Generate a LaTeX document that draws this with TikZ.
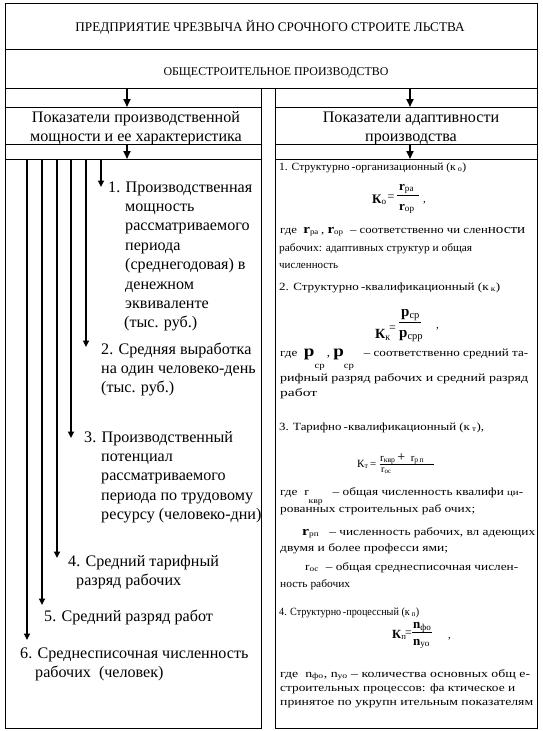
\documentclass[tikz,border=0pt]{standalone}
\usepackage{fontspec}
\usepackage{graphicx}
\setmainfont{Liberation Serif}
\usetikzlibrary{arrows.meta}
\newcommand\LFont{\fontsize{16.1}{19}\selectfont}
\newcommand\RFont{\fontsize{11}{12}\selectfont}
\newcommand\BigSym[1]{{\fontsize{13}{13}\selectfont\bfseries #1}}
\newcommand\HugeP{{\fontsize{16}{16}\selectfont\bfseries р}}
\newcommand\LowSub[1]{\raisebox{-12pt}{\fontsize{9}{9}\selectfont #1}}
\newcommand\FitW[2]{\resizebox{#1pt}{\height}{#2}}
\begin{document}
\begin{tikzpicture}[x=1pt,y=-1pt,
  frame/.style={draw=black, line width=0.9pt},
  bigarrow/.style={line width=1.8pt, -{Triangle[length=8pt,width=7pt]}},
  smallarrow/.style={line width=1.8pt, -{Triangle[length=6.5pt,width=6pt]}},
  ltext/.style={font=\LFont, inner sep=0pt, anchor=base west},
  rtext/.style={font=\RFont, inner sep=0pt, anchor=base west},
  htext/.style={font=\LFont, inner sep=0pt, anchor=base},
  fml/.style={inner sep=0pt, anchor=base west},
  fbar/.style={line width=0.7pt}]
\useasboundingbox (0,0) rectangle (542,731);
\fill[white] (0,0) rectangle (542,731);
% frames
\draw[frame] (5.5,3) rectangle (537,49);
\draw[frame] (5.5,49) rectangle (537,88);
\draw[frame] (5.5,88) rectangle (261,728);
\draw[frame] (5.5,107) -- (261,107);
\draw[frame] (5.5,144) -- (261,144);
\draw[frame] (5.5,159) -- (261,159);
\draw[frame] (275,88) rectangle (537,728);
\draw[frame] (275,107) -- (537,107);
\draw[frame] (275,144) -- (537,144);
\draw[frame] (275,159) -- (537,159);
% titles
\node[font=\fontsize{13.2}{15}\selectfont, inner sep=0pt, anchor=base] (title) at (270,31.5) {ПРЕДПРИЯТИЕ ЧРЕЗВЫЧА ЙНО СРОЧНОГО СТРОИТЕ ЛЬСТВА};
\node[font=\fontsize{11.9}{13}\selectfont, inner sep=0pt, anchor=base] (sub) at (276,75) {ОБЩЕСТРОИТЕЛЬНОЕ ПРОИЗВОДСТВО};
\node[htext] (hl1) at (136,122.5) {Показатели производственной};
\node[htext] (hl2) at (136,141) {мощности и ее характеристика};
\node[htext] (hr1) at (411,122.5) {Показатели адаптивности};
\node[htext] (hr2) at (411,141) {производства};
% top arrows
\coordinate (a1s) at (127,88);  \coordinate (a1e) at (127,107);
\coordinate (a2s) at (127,144); \coordinate (a2e) at (127,159);
\coordinate (a3s) at (410,88);  \coordinate (a3e) at (410,107);
\coordinate (a4s) at (410,144); \coordinate (a4e) at (410,159);
\draw[bigarrow] (a1s) -- (a1e);
\draw[bigarrow] (a2s) -- (a2e);
\draw[bigarrow] (a3s) -- (a3e);
\draw[bigarrow] (a4s) -- (a4e);
% left column arrows
\coordinate (s1) at (101,159); \coordinate (e1) at (101,187);
\coordinate (s2) at (86,159);  \coordinate (e2) at (86,347);
\coordinate (s3) at (71,159);  \coordinate (e3) at (71,438);
\coordinate (s4) at (57,159);  \coordinate (e4) at (57,558);
\coordinate (s5) at (42,159);  \coordinate (e5) at (42,605);
\coordinate (s6) at (27,159);  \coordinate (e6) at (27,640);
\draw[smallarrow] (s1) -- (e1);
\draw[smallarrow] (s2) -- (e2);
\draw[smallarrow] (s3) -- (e3);
\draw[smallarrow] (s4) -- (e4);
\draw[smallarrow] (s5) -- (e5);
\draw[smallarrow] (s6) -- (e6);
% left texts
\node[ltext] (i1a) at (108,192) {1. Производственная};
\node[ltext] (i1b) at (125,211.4) {мощность};
\node[ltext] (i1c) at (125,230.8) {рассматриваемого};
\node[ltext] (i1d) at (125,250.2) {периода};
\node[ltext] (i1e) at (125,269.6) {(среднегодовая) в};
\node[ltext] (i1f) at (125,289) {денежном};
\node[ltext] (i1g) at (125,308.4) {эквиваленте};
\node[ltext] (i1h) at (124,327.8) {(тыс. руб.)};
\node[ltext] (i2a) at (101,354) {2. Средняя выработка};
\node[ltext] (i2b) at (101,373.4) {на один человеко-день};
\node[ltext] (i2c) at (101,392.8) {(тыс. руб.)};
\node[ltext] (i3a) at (84,442) {3. Производственный};
\node[ltext] (i3b) at (101,461.4) {потенциал};
\node[ltext] (i3c) at (101,480.8) {рассматриваемого};
\node[ltext] (i3d) at (101,500.2) {периода по трудовому};
\node[ltext] (i3e) at (101,519.6) {ресурсу (человеко-дни)};
\node[ltext] (i4a) at (68,566) {4. Средний тарифный};
\node[ltext] (i4b) at (76,585.4) {разряд рабочих};
\node[ltext] (i5a) at (44,621) {5. Средний разряд работ};
\node[ltext] (i6a) at (20,658) {6. Среднесписочная численность};
\node[ltext] (i6b) at (35,677.4) {рабочих\ \ (человек)};
% right column: section 1
\node[rtext] (r1a) at (279,170) {\FitW{187}{1. Структурно\,-организационный (к\,\textsubscript{о})}};
\node[fml, font=\fontsize{13}{15}\selectfont\bfseries] (f1k) at (372,203) {К\textsubscript{\mdseries о}};
\node[fml, font=\fontsize{12}{15}\selectfont] (f1e) at (387.5,200) {=};
\node[fml, font=\fontsize{13}{15}\selectfont\bfseries] (f1n) at (399,190) {r\textsubscript{\mdseries ра}};
\draw[fbar] (397,195.5) -- (419,195.5);
\node[fml, font=\fontsize{13}{15}\selectfont\bfseries] (f1d) at (399,210) {r\textsubscript{\mdseries ор}};
\node[rtext] (f1c) at (423,202) {,};
\node[rtext] (r1b) at (280,233) {\FitW{245}{где\ \ \BigSym{r}\textsubscript{ра}\,, \BigSym{r}\textsubscript{ор}\ \ – соответственно чи слен{\fontsize{13}{13}\selectfont ности}}};
\node[rtext] (r1c) at (279,251) {\FitW{193}{рабочих: адаптивных структур и общая}};
\node[rtext] (r1d) at (279,268.5) {численность};
% section 2
\node[rtext] (r2a) at (279,290) {\FitW{221}{2. Структурно\,-квалификационный (к\,\textsubscript{к})}};
\node[fml, font=\fontsize{14}{16}\selectfont\bfseries] (f2k) at (375,338) {К\textsubscript{\mdseries к}};
\node[fml, font=\fontsize{12}{15}\selectfont] (f2e) at (389,331) {=};
\node[fml, font=\fontsize{15}{16}\selectfont\bfseries] (f2n) at (401,316) {р\textsubscript{\mdseries ср}};
\draw[fbar] (399,322.5) -- (421,322.5);
\node[fml, font=\fontsize{15}{16}\selectfont\bfseries] (f2d) at (399,337) {р\textsubscript{\mdseries срр}};
\node[rtext] (f2c) at (436,328) {,};
\node[rtext] (r2b) at (280,356) {\FitW{248}{где\ \ \HugeP\LowSub{ср}\,, \HugeP\LowSub{ср}\ \ \ – соответственно средний та-}};
\node[rtext] (r2c) at (280,381) {\FitW{248}{рифный разряд рабочих и средний разряд}};
\node[rtext] (r2d) at (280,396) {\FitW{37}{работ}};
% section 3
\node[rtext] (r3a) at (279,430) {\FitW{205}{3. Тарифно\,-квалификационный (к\,\textsubscript{т}),}};
\node[fml, font=\fontsize{11}{12}\selectfont] (f3k) at (357,467) {К\textsubscript{т}\,=};
\node[fml, font=\fontsize{11}{12}\selectfont] (f3n) at (380,461) {r\textsubscript{квр}\,{\fontsize{14}{14}\selectfont+}\ \ r\textsubscript{р\,п}};
\draw[fbar] (380,464.5) -- (434,464.5);
\node[fml, font=\fontsize{10}{11}\selectfont] (f3d) at (381,472) {r\textsubscript{ос}};
\node[rtext] (r3b) at (280,495) {\FitW{243}{где\ \ r\raisebox{-8pt}{\fontsize{8}{8}\selectfont квр}\ \ \ – общая численность квалифи {\fontsize{9}{9}\selectfont ци}-}};
\node[rtext] (r3c) at (280,512) {\FitW{195}{рованных строительных раб очих;}};
\node[rtext] (r3d) at (302,535) {\FitW{233}{\BigSym{r}\textsubscript{рп}\ \ \ – численность рабочих, вл адеющих}};
\node[rtext] (r3e) at (280,551) {\FitW{168}{двумя и более професси ями;}};
\node[rtext] (r3f) at (305,570) {\FitW{213}{r\textsubscript{ос}\ \ – общая среднесписочная числен-}};
\node[rtext] (r3g) at (280,587) {\FitW{70}{ность рабочих}};
% section 4
\node[rtext] (r4a) at (279,615) {\FitW{140}{4. Структурно\,-процессный (к\,\textsubscript{п})}};
\node[fml, font=\fontsize{12.5}{15}\selectfont\bfseries] (f4k) at (392,638) {К\textsubscript{\mdseries п}};
\node[fml, font=\fontsize{12}{14}\selectfont] (f4e) at (405,636) {=};
\node[fml, font=\fontsize{13}{15}\selectfont\bfseries] (f4n) at (413,628) {n\textsubscript{\mdseries фо}};
\draw[fbar] (412,632) -- (432,632);
\node[fml, font=\fontsize{13}{15}\selectfont\bfseries] (f4d) at (413,645) {n\textsubscript{\mdseries уо}};
\node[rtext] (f4c) at (448,638) {,};
\node[rtext] (r4b) at (280,677) {\FitW{250}{где\ \ n\textsubscript{фо}, n\textsubscript{уо} – количества основных общ е-}};
\node[rtext] (r4c) at (280,691) {\FitW{235}{строительных процессов: фа ктическое и}};
\node[rtext] (r4d) at (280,705) {\FitW{253}{принятое по укрупн ительным показателям}};
\end{tikzpicture}
\end{document}
